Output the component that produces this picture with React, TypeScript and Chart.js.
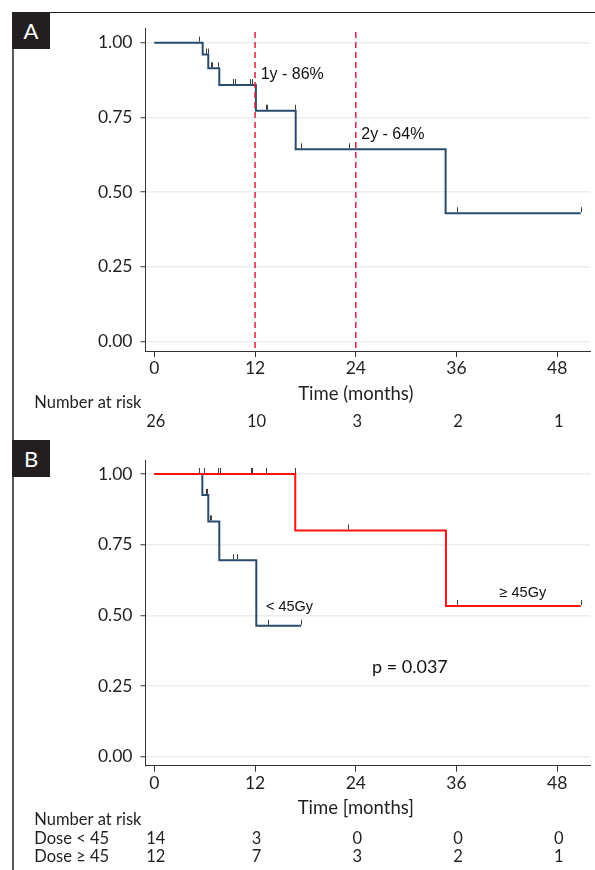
import React, { useEffect, useRef } from "react";
import { Chart, registerables } from "chart.js";

Chart.register(...registerables);

// ---------- shared axis values ----------
const timeTicks = [0, 12, 24, 36, 48];
const survivalTicks = [0, 0.25, 0.5, 0.75, 1];

// ---------- Panel A : all patients ----------
const aStepTimes = [0, 5.76, 6.43, 7.74, 12.1, 16.84, 34.7, 50.8];
const aStepSurvival = [1, 0.96, 0.914, 0.858, 0.772, 0.643, 0.429, 0.429];
const aCensorTimes = [5.3, 6.12, 6.36, 6.72, 6.91, 7.55, 9.41, 9.65, 11.4, 11.6, 13.27, 13.46, 16.8, 17.43, 23.2, 36.0, 50.8];
const aCensorSurvival = [1, 0.96, 0.96, 0.914, 0.914, 0.914, 0.858, 0.858, 0.858, 0.858, 0.772, 0.772, 0.772, 0.643, 0.643, 0.429, 0.429];
const aRiskCounts = [26, 10, 3, 2, 1];
const aLandmarkTimes = [12, 24];
const aLandmarkLabels = ["1y - 86%", "2y - 64%"];

// ---------- Panel B : by dose ----------
const bLowTimes = [0, 5.72, 6.43, 7.74, 12.15, 17.5];
const bLowSurvival = [1, 0.926, 0.832, 0.695, 0.463, 0.463];
const bLowCensorTimes = [6.12, 6.28, 6.63, 6.79, 9.37, 9.81, 13.5, 17.5];
const bLowCensorSurvival = [0.926, 0.926, 0.832, 0.832, 0.695, 0.695, 0.463, 0.463];
const bHighTimes = [0, 16.79, 34.74, 50.8];
const bHighSurvival = [1, 0.8, 0.533, 0.533];
const bHighCensorTimes = [5.32, 5.96, 7.62, 7.82, 11.52, 11.67, 13.27, 16.79, 23.1, 36.1, 50.8];
const bHighCensorSurvival = [1, 1, 1, 1, 1, 1, 1, 1, 0.8, 0.533, 0.533];
const bRiskLow = [14, 3, 0, 0, 0];
const bRiskHigh = [12, 7, 3, 2, 1];
const bGroupLabels = ["< 45Gy", "≥ 45Gy"];
const bRiskLabels = ["Dose < 45", "Dose ≥ 45"];
const pValueText = "p = 0.037";

// ---------- styling ----------
const SANS = "Lato, 'Noto Sans', sans-serif";
const ARIAL = "'Liberation Sans', Arial, sans-serif";
const INK = "#231f20";
const BLUE = "#2a4b6e";
const RED = "#ff1010";
const DASH = "#d9203f";

type Curve = { times: number[]; surv: number[]; color: string; cTimes: number[]; cSurv: number[] };
type Note = { text: string; x: number; y: number; align: CanvasTextAlign; font: string };
type PanelCfg = {
  curves: Curve[];
  landmarks: number[];
  notes: Note[];
  title: string;
  riskRows: { label: string; counts: number[] }[];
  padTop: number;
  padRight: number;
  yWidth: number;
  xHeight: number;
  titleDy: number;
  headerDy: number;
  rowDy: number[];
  yMin: number;
  yMax: number;
  xMin: number;
  xMax: number;
};

const panelA: PanelCfg = {
  curves: [
    { times: aStepTimes, surv: aStepSurvival, color: BLUE, cTimes: aCensorTimes, cSurv: aCensorSurvival },
  ],
  landmarks: aLandmarkTimes,
  notes: [
    { text: aLandmarkLabels[0], x: 12.67, y: 0.892, align: "left", font: `16px ${ARIAL}` },
    { text: aLandmarkLabels[1], x: 24.65, y: 0.692, align: "left", font: `16px ${ARIAL}` },
  ],
  title: "Time (months)",
  riskRows: [{ label: "", counts: aRiskCounts }],
  padTop: 8,
  padRight: 5,
  yWidth: 145.5,
  xHeight: 89,
  titleDy: 43.3,
  headerDy: 51.3,
  rowDy: [70.7],
  yMin: -0.032,
  yMax: 1.049,
  xMin: -1.05,
  xMax: 51.9,
};

const panelB: PanelCfg = {
  curves: [
    { times: bHighTimes, surv: bHighSurvival, color: RED, cTimes: bHighCensorTimes, cSurv: bHighCensorSurvival },
    { times: bLowTimes, surv: bLowSurvival, color: BLUE, cTimes: bLowCensorTimes, cSurv: bLowCensorSurvival },
  ],
  landmarks: [],
  notes: [
    { text: bGroupLabels[0], x: 13.3, y: 0.531, align: "left", font: `14.5px ${ARIAL}` },
    { text: bGroupLabels[1], x: 43.9, y: 0.578, align: "center", font: `14.5px ${ARIAL}` },
    { text: pValueText, x: 30.45, y: 0.316, align: "center", font: `18px ${SANS}` },
  ],
  title: "Time [months]",
  riskRows: [
    { label: bRiskLabels[0], counts: bRiskLow },
    { label: bRiskLabels[1], counts: bRiskHigh },
  ],
  padTop: 10,
  padRight: 5,
  yWidth: 145.5,
  xHeight: 104.3,
  titleDy: 42.8,
  headerDy: 53.6,
  rowDy: [72.6, 91],
  yMin: -0.032,
  yMax: 1.0495,
  xMin: -1.05,
  xMax: 51.9,
};

function makePlugin(cfg: PanelCfg) {
  return {
    id: "kmExtras",
    afterDatasetsDraw(chart: any) {
      const { ctx, chartArea } = chart;
      const x = chart.scales.x;
      const y = chart.scales.y;
      ctx.save();
      // landmark dashed lines
      ctx.strokeStyle = DASH;
      ctx.lineWidth = 1.5;
      ctx.setLineDash([6, 4]);
      for (const t of cfg.landmarks) {
        const px = x.getPixelForValue(t);
        ctx.beginPath();
        ctx.moveTo(px, chartArea.top + 4);
        ctx.lineTo(px, chartArea.bottom);
        ctx.stroke();
      }
      ctx.setLineDash([]);
      // censor ticks
      ctx.strokeStyle = "#3a3a3a";
      ctx.lineWidth = 1;
      for (const c of cfg.curves) {
        c.cTimes.forEach((t, i) => {
          const px = Math.round(x.getPixelForValue(t)) + 0.5;
          const py = y.getPixelForValue(c.cSurv[i]);
          ctx.beginPath();
          ctx.moveTo(px, py - 1);
          ctx.lineTo(px, py - 6);
          ctx.stroke();
        });
      }
      ctx.restore();
    },
    afterDraw(chart: any) {
      const { ctx, chartArea } = chart;
      const x = chart.scales.x;
      const y = chart.scales.y;
      ctx.save();
      ctx.fillStyle = "#111";
      ctx.textBaseline = "middle";
      for (const n of cfg.notes) {
        ctx.font = n.font;
        ctx.textAlign = n.align;
        ctx.fillText(n.text, x.getPixelForValue(n.x), y.getPixelForValue(n.y));
      }
      ctx.fillStyle = INK;
      // axis title
      ctx.font = `18.5px ${SANS}`;
      ctx.textAlign = "center";
      ctx.fillText(cfg.title, x.getPixelForValue(24), chartArea.bottom + cfg.titleDy);
      // risk table
      ctx.font = `16.5px ${SANS}`;
      ctx.textAlign = "left";
      ctx.fillText("Number at risk", 34.3, chartArea.bottom + cfg.headerDy);
      cfg.riskRows.forEach((row, r) => {
        const ry = chartArea.bottom + cfg.rowDy[r];
        ctx.textAlign = "left";
        if (row.label) ctx.fillText(row.label, 34.3, ry);
        ctx.textAlign = "center";
        row.counts.forEach((n, i) => {
          ctx.fillText(String(n), x.getPixelForValue(timeTicks[i]) + 1.5, ry);
        });
      });
      ctx.restore();
    },
  };
}

function buildChart(canvas: HTMLCanvasElement, cfg: PanelCfg) {
  return new Chart(canvas, {
    type: "line",
    data: {
      datasets: cfg.curves.map((c) => ({
        data: c.times.map((t, i) => ({ x: t, y: c.surv[i] })),
        borderColor: c.color,
        backgroundColor: c.color,
        borderWidth: 2,
        pointRadius: 0,
        stepped: "before" as const,
        fill: false,
        tension: 0,
      })),
    },
    options: {
      animation: false,
      responsive: false,
      events: [],
      layout: { padding: { top: cfg.padTop, right: cfg.padRight, left: 0, bottom: 0 } },
      plugins: { legend: { display: false }, tooltip: { enabled: false } },
      scales: {
        x: {
          type: "linear",
          min: cfg.xMin,
          max: cfg.xMax,
          afterBuildTicks: (s: any) => {
            s.ticks = timeTicks.map((v) => ({ value: v }));
          },
          afterFit: (s: any) => {
            s.height = cfg.xHeight;
            s.paddingLeft = 0;
            s.paddingRight = 0;
            s.paddingTop = 0;
            s.paddingBottom = 0;
          },
          grid: { drawOnChartArea: false, drawTicks: true, tickLength: 6, tickColor: "#333", tickWidth: 1 },
          border: { color: "#333", width: 1 },
          ticks: {
            color: INK,
            font: { family: SANS, size: 17.5 },
            padding: 1,
            maxRotation: 0,
            autoSkip: false,
            callback: (v: any) => String(v),
          },
        },
        y: {
          type: "linear",
          min: cfg.yMin,
          max: cfg.yMax,
          afterBuildTicks: (s: any) => {
            s.ticks = survivalTicks.map((v) => ({ value: v }));
          },
          afterFit: (s: any) => {
            s.width = cfg.yWidth;
            s.paddingLeft = 0;
            s.paddingRight = 0;
            s.paddingTop = 0;
            s.paddingBottom = 0;
          },
          grid: { color: "#e6edf3", lineWidth: 1.5, drawTicks: true, tickLength: 5, tickColor: "#333", tickWidth: 1 },
          border: { color: "#333", width: 1 },
          ticks: {
            color: INK,
            font: { family: SANS, size: 17.5 },
            padding: 8,
            callback: (v: any) => Number(v).toFixed(2),
          },
        },
      },
    } as any,
    plugins: [makePlugin(cfg)],
  });
}

const labelBox = (top: number): React.CSSProperties => ({
  position: "absolute",
  left: 12,
  top,
  width: 38,
  height: 37,
  background: INK,
  color: "#fff",
  fontFamily: SANS,
  fontSize: 22,
  lineHeight: "37px",
  textAlign: "center",
  zIndex: 2,
});

export default function App() {
  const refA = useRef<HTMLCanvasElement | null>(null);
  const refB = useRef<HTMLCanvasElement | null>(null);

  useEffect(() => {
    const ca = refA.current ? buildChart(refA.current, panelA) : null;
    const cb = refB.current ? buildChart(refB.current, panelB) : null;
    return () => {
      ca?.destroy();
      cb?.destroy();
    };
  }, []);

  return (
    <div style={{ position: "absolute", left: 0, top: 0, width: 595, height: 870, background: "#fff", overflow: "hidden" }}>
      <canvas ref={refA} width={595} height={420} style={{ position: "absolute", left: 0, top: 20, width: 595, height: 420 }} />
      <canvas ref={refB} width={595} height={420} style={{ position: "absolute", left: 0, top: 450, width: 595, height: 420 }} />
      <div style={{ position: "absolute", left: 12, top: 12, width: 583, height: 1, background: INK, zIndex: 2 }} />
      <div style={{ position: "absolute", left: 12, top: 12, width: 2, height: 858, background: "#5a5a5a", zIndex: 2 }} />
      <div style={labelBox(12)}>A</div>
      <div style={labelBox(440)}>B</div>
    </div>
  );
}
